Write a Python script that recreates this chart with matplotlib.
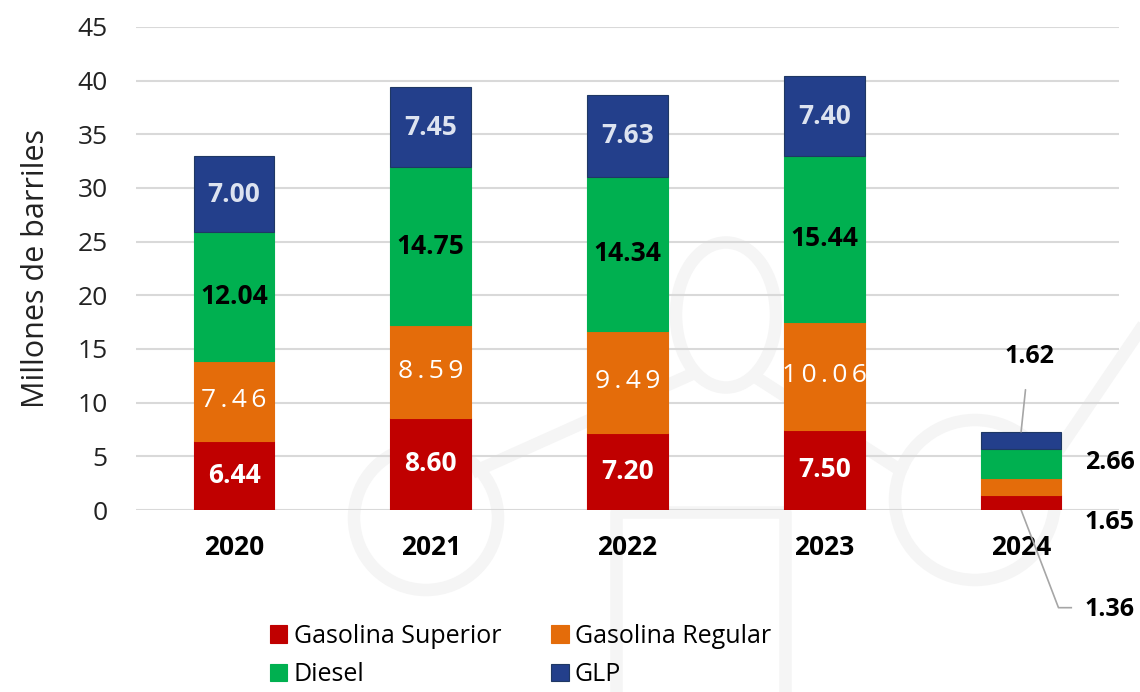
import numpy as np
import matplotlib.pyplot as plt
from matplotlib.patches import Circle, Ellipse

years = ["2020", "2021", "2022", "2023", "2024"]
superior = [6.44, 8.60, 7.20, 7.50, 1.36]
regular = [7.46, 8.59, 9.49, 10.06, 1.65]
diesel = [12.04, 14.75, 14.34, 15.44, 2.66]
glp = [7.00, 7.45, 7.63, 7.40, 1.62]

series_names = ["Gasolina Superior", "Gasolina Regular", "Diesel", "GLP"]
colors = ["#C00000", "#E46C0A", "#00B050", "#233F8B"]

plt.rcParams['font.family'] = ['Open Sans', 'DejaVu Sans']

fig = plt.figure(figsize=(11.4, 6.92), dpi=100)

# faint watermark logo behind everything (pixel coordinates of the canvas)
bg = fig.add_axes([0, 0, 1, 1], zorder=-1)
bg.set_xlim(0, 1140)
bg.set_ylim(692, 0)
bg.axis("off")
wm = "#F5F5F5"
lw = 9
bg.add_patch(Circle((426, 518), 72, fill=False, ec=wm, lw=lw))
bg.add_patch(Ellipse((726, 315), 100, 145, fill=False, ec=wm, lw=lw))
bg.add_patch(Circle((975, 500), 80, fill=False, ec=wm, lw=lw))
bg.plot([478, 690], [470, 375], color=wm, lw=lw)
bg.plot([760, 900], [380, 470], color=wm, lw=lw)
bg.plot([1045, 1140], [470, 330], color=wm, lw=lw)
bg.plot([616, 616, 785, 785], [700, 512, 512, 700], color=wm, lw=lw)

ax = fig.add_axes([0.119, 0.263, 0.863, 0.698])
ax.set_facecolor("none")

x = np.arange(len(years))
width = 0.41
bottom = np.zeros(len(years))
data = [superior, regular, diesel, glp]
handles = []
for vals, name, col in zip(data, series_names, colors):
    edge = "#1F3864" if name == "GLP" else col
    b = ax.bar(x, vals, width, bottom=bottom, color=col, label=name,
               edgecolor=edge, linewidth=0.8, zorder=3)
    handles.append(b)
    bottom += np.array(vals)

# labels inside bars (2020-2023)
label_style = [
    dict(color="white", fontweight="bold"),
    dict(color="white", fontweight="normal"),
    dict(color="black", fontweight="bold"),
    dict(color="#DDE3F0", fontweight="bold"),
]
base = np.zeros(len(years))
for vals, st in zip(data, label_style):
    for i in range(4):
        txt = f"{vals[i]:.2f}"
        if st["fontweight"] == "normal":
            txt = "\u2009".join(txt)
        ax.text(x[i], base[i] + vals[i] / 2, txt, ha="center", va="center",
                fontsize=19, zorder=4, **st)
    base += np.array(vals)

# 2024 labels outside with leader lines
i = 4
lc = "#A6A6A6"
ax.annotate(f"{glp[i]:.2f}", xy=(x[i], bottom[i]), xytext=(x[i] + 0.04, 14.3),
            ha="center", va="center", fontsize=18, fontweight="bold",
            arrowprops=dict(arrowstyle="-", color=lc, lw=1.2, shrinkA=13, shrinkB=0),
            annotation_clip=False)
ax.text(x[i] + 0.45, superior[i] + regular[i] + diesel[i] / 2 + 0.1,
        f"{diesel[i]:.2f}", ha="center", va="center", fontsize=18,
        fontweight="bold", clip_on=False)
ax.text(x[i] + 0.45, -1.15, f"{regular[i]:.2f}", ha="center", va="center",
        fontsize=18, fontweight="bold", clip_on=False)
ax.text(x[i] + 0.45, -9.3, f"{superior[i]:.2f}", ha="center", va="center",
        fontsize=18, fontweight="bold", clip_on=False)
ax.plot([x[i], x[i] + 0.19, x[i] + 0.255], [0, -9.1, -9.1], color=lc, lw=1.2,
        clip_on=False, zorder=2)

ax.set_xlim(-0.5, 4.5)
ax.set_ylim(0, 45)
ax.set_yticks(np.arange(0, 46, 5))
ax.set_xticks(x)
ax.set_xticklabels(years, fontsize=19, fontweight="bold")
ax.tick_params(axis="x", length=0, pad=17)
ax.tick_params(axis="y", length=0, pad=20, labelsize=19, labelcolor="#222222")
ax.grid(axis="y", color="#D9D9D9", lw=1.5, zorder=0)
for s in ax.spines.values():
    s.set_visible(False)
ax.set_ylabel("Millones de barriles", fontsize=22, labelpad=19, color="#222222")

# legend row by row: Superior, Regular / Diesel, GLP
order = [0, 2, 1, 3]
fig.legend([handles[k] for k in order], [series_names[k] for k in order],
           loc="lower left", bbox_to_anchor=(0.217, -0.026), ncol=2,
           frameon=False, fontsize=18, handlelength=0.7, handleheight=0.7,
           handletextpad=0.25, columnspacing=2.0, labelspacing=0.55)

fig.savefig("out.png", dpi=100)
